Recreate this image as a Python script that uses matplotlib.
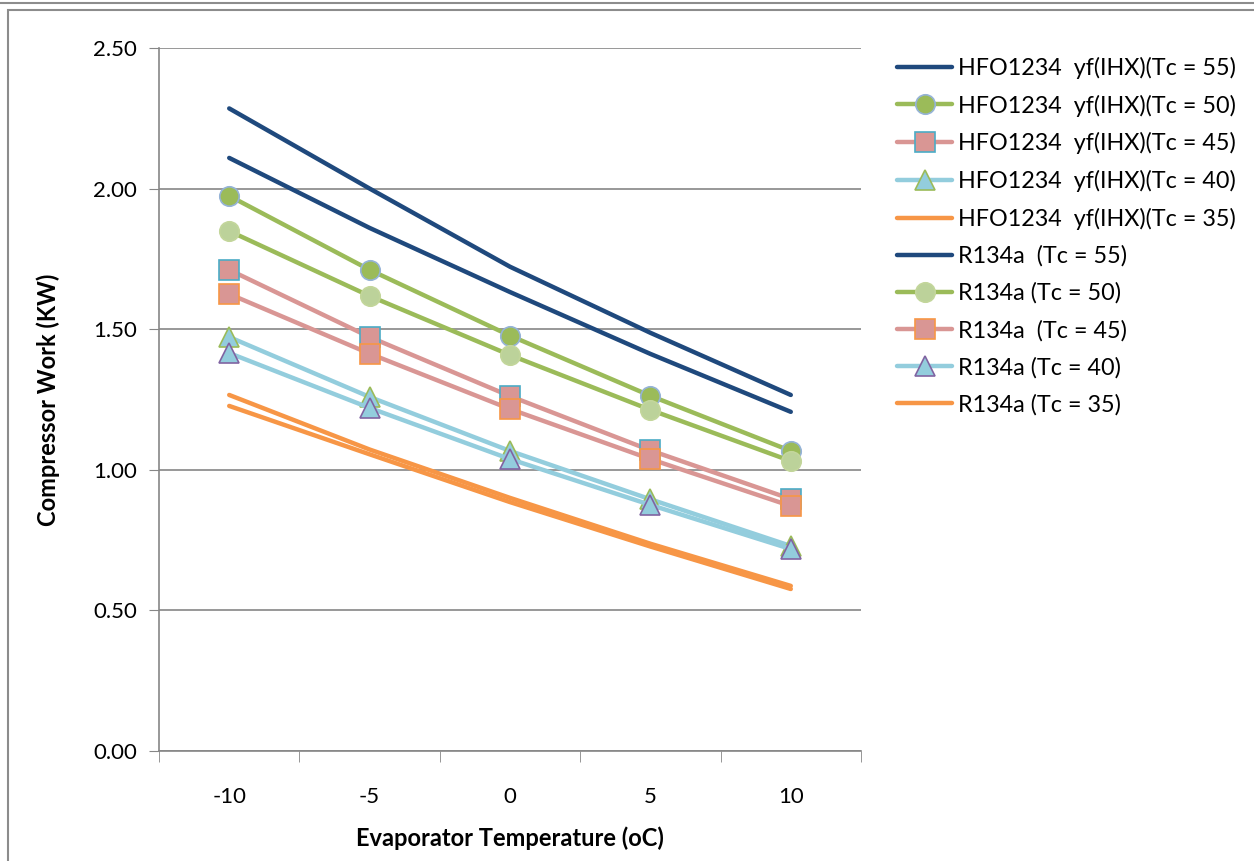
import matplotlib
matplotlib.use("Agg")
import matplotlib.pyplot as plt
from matplotlib.patches import Rectangle
from matplotlib.lines import Line2D

plt.rcParams['font.family'] = ['Lato', 'DejaVu Sans']
plt.rcParams['axes.unicode_minus'] = False

evap_temp = [-10, -5, 0, 5, 10]

hfo_55 = [2.285, 2.000, 1.722, 1.487, 1.266]
hfo_50 = [1.974, 1.711, 1.477, 1.263, 1.067]
hfo_45 = [1.711, 1.472, 1.262, 1.069, 0.896]
hfo_40 = [1.472, 1.259, 1.067, 0.895, 0.729]
hfo_35 = [1.266, 1.072, 0.900, 0.737, 0.587]

r134a_55 = [2.109, 1.860, 1.632, 1.412, 1.206]
r134a_50 = [1.849, 1.618, 1.408, 1.213, 1.031]
r134a_45 = [1.625, 1.413, 1.216, 1.038, 0.871]
r134a_40 = [1.415, 1.220, 1.038, 0.875, 0.718]
r134a_35 = [1.227, 1.055, 0.885, 0.727, 0.576]

labels = [
    "HFO1234  yf(IHX)(Tc = 55)",
    "HFO1234  yf(IHX)(Tc = 50)",
    "HFO1234  yf(IHX)(Tc = 45)",
    "HFO1234  yf(IHX)(Tc = 40)",
    "HFO1234  yf(IHX)(Tc = 35)",
    "R134a  (Tc = 55)",
    "R134a (Tc = 50)",
    "R134a  (Tc = 45)",
    "R134a (Tc = 40)",
    "R134a (Tc = 35)",
]

series = [hfo_55, hfo_50, hfo_45, hfo_40, hfo_35,
          r134a_55, r134a_50, r134a_45, r134a_40, r134a_35]

# style per series: line colour, marker, marker face, marker edge
styles = [
    ("#1f497d", None, None, None),
    ("#9bbb59", "o", "#9bbb59", "#95b3d7"),
    ("#d99694", "s", "#d99694", "#4bacc6"),
    ("#93cddd", "^", "#93cddd", "#9bbb59"),
    ("#f79646", None, None, None),
    ("#1f497d", None, None, None),
    ("#9bbb59", "o", "#bcd29a", "#c3d69b"),
    ("#d99694", "s", "#d99694", "#f79646"),
    ("#93cddd", "^", "#93cddd", "#8064a2"),
    ("#f79646", None, None, None),
]

fig = plt.figure(figsize=(12.54, 8.61), dpi=100)
ax = fig.add_axes([0.1268, 0.1278, 0.5598, 0.8165])

handles = []
for vals, lab, (col, mk, mfc, mec) in zip(series, labels, styles):
    kw = dict(color=col, lw=3.2, solid_capstyle='round', label=lab)
    if mk:
        ms = 14 if mk != "^" else 15
        kw.update(marker=mk, markersize=ms, markerfacecolor=mfc,
                  markeredgecolor=mec, markeredgewidth=1.2)
    ln, = ax.plot(evap_temp, vals, **kw)
    handles.append(ln)

ax.set_xlim(-12.5, 12.5)
ax.set_ylim(0, 2.5)
ax.set_yticks([0, 0.5, 1.0, 1.5, 2.0, 2.5])
ax.set_yticklabels([f"{v:.2f}" for v in [0, 0.5, 1.0, 1.5, 2.0, 2.5]])
ax.set_xticks(evap_temp)
ax.set_xticks([-12.5, -7.5, -2.5, 2.5, 7.5, 12.5], minor=True)
ax.tick_params(axis='x', which='major', length=0, pad=26, labelsize=16)
ax.tick_params(axis='x', which='minor', length=8, color='#868686', direction='out')
ax.tick_params(axis='y', length=7, color='#868686', pad=9, labelsize=16)
ax.grid(axis='y', color='#868686', lw=1.2)
ax.set_axisbelow(True)
for s in ['top', 'right']:
    ax.spines[s].set_visible(False)
for s in ['left', 'bottom']:
    ax.spines[s].set_color('#868686')
    ax.spines[s].set_linewidth(1.2)

ax.set_xlabel("Evaporator Temperature (oC)", fontsize=17, fontweight='bold', labelpad=14)
ax.set_ylabel("Compressor Work (KW)", fontsize=17, fontweight='bold', labelpad=24)

leg = fig.legend(handles=handles, loc='upper left', bbox_to_anchor=(0.708, 0.945),
                 frameon=False, fontsize=16.8, handlelength=2.35, handletextpad=0.25,
                 labelspacing=0.67, borderaxespad=0)

# outer chart frame
fig.add_artist(Rectangle((8 / 1254, -0.05), 1.1, 1 - 10 / 861 + 0.05,
                         transform=fig.transFigure, fill=False,
                         edgecolor='#8c8c8c', lw=1.5))
fig.add_artist(Line2D([0, 1], [1 - 3 / 861, 1 - 3 / 861], transform=fig.transFigure,
                      color='#8c8c8c', lw=1.5))

fig.savefig("out.png", dpi=100)
